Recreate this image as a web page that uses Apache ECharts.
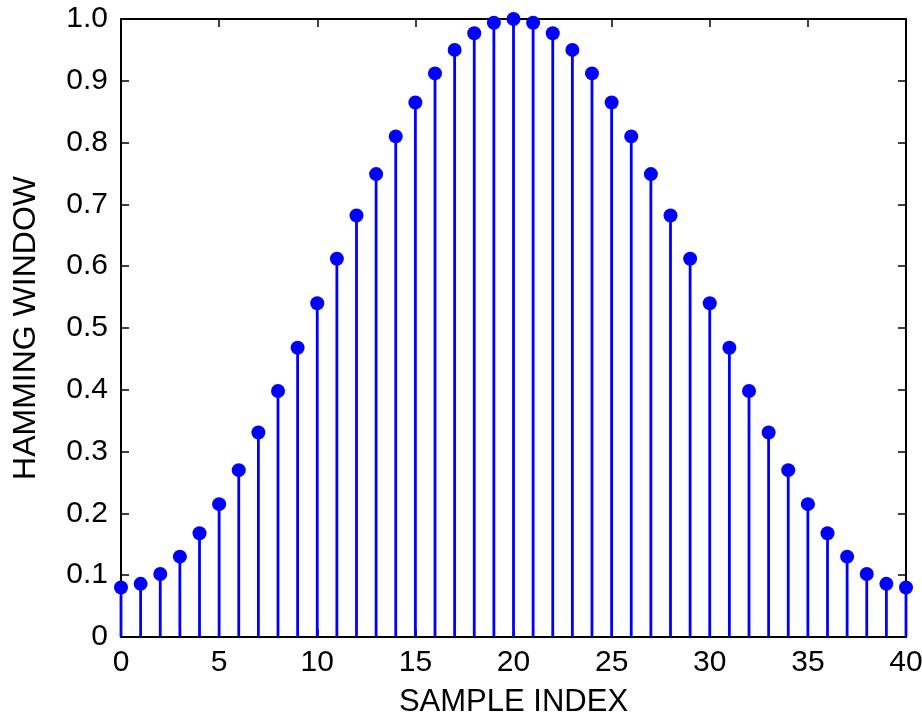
<!DOCTYPE html>
<html>
<head>
<meta charset="utf-8">
<script src="https://cdn.jsdelivr.net/npm/echarts@6/dist/echarts.min.js"></script>
<style>
html,body{margin:0;padding:0;background:#fff;}
#chart{width:922px;height:716px;}
</style>
</head>
<body>
<div id="chart"></div>
<script>
// Sample indices 0..40
const sampleIndex = [0,1,2,3,4,5,6,7,8,9,10,11,12,13,14,15,16,17,18,19,20,
  21,22,23,24,25,26,27,28,29,30,31,32,33,34,35,36,37,38,39,40];
// Hamming window values
const windowValues = [0.080,0.086,0.102,0.130,0.168,0.215,0.270,0.331,0.398,0.468,0.540,
  0.612,0.682,0.749,0.810,0.865,0.912,0.950,0.977,0.994,1.000,
  0.994,0.977,0.950,0.912,0.865,0.810,0.749,0.682,0.612,0.540,
  0.468,0.398,0.331,0.270,0.215,0.168,0.130,0.102,0.086,0.080];
const xLabel = 'SAMPLE INDEX';
const yLabel = 'HAMMING WINDOW';

const points = sampleIndex.map((x, i) => [x, windowValues[i]]);
const FONT = 'Liberation Sans, Arial, Helvetica, sans-serif';
const blue = '#0000ff';

const chart = echarts.init(document.getElementById('chart'), null, {renderer: 'canvas'});
const axisLineStyle = {color: '#000', width: 2};
const tickStyle = {show: true, inside: true, length: 8, lineStyle: {color: '#000', width: 1.5}};

chart.setOption({
  animation: false,
  backgroundColor: '#fff',
  grid: {left: 121, right: 16, top: 19, bottom: 79, containLabel: false, outerBoundsMode: 'none'},
  xAxis: [
    {
      type: 'value', position: 'bottom', min: 0, max: 40, interval: 5,
      axisLine: {show: true, lineStyle: axisLineStyle},
      axisTick: tickStyle,
      splitLine: {show: false},
      axisLabel: {color: '#000', fontFamily: FONT, fontSize: 30, margin: 11},
      name: xLabel, nameLocation: 'middle', nameGap: 50,
      nameTextStyle: {color: '#000', fontFamily: FONT, fontSize: 31}
    },
    {
      type: 'value', position: 'top', min: 0, max: 40, interval: 5,
      axisLine: {show: true, onZero: false, lineStyle: axisLineStyle},
      axisTick: tickStyle, axisLabel: {show: false}, splitLine: {show: false}
    }
  ],
  yAxis: [
    {
      type: 'value', position: 'left', min: 0, max: 1, interval: 0.1,
      axisLine: {show: true, lineStyle: axisLineStyle},
      axisTick: tickStyle,
      splitLine: {show: false},
      axisLabel: {color: '#000', fontFamily: FONT, fontSize: 30, margin: 13,
        formatter: v => (Math.abs(v) < 1e-9 ? '0' : v.toFixed(1))},
      name: yLabel, nameLocation: 'middle', nameGap: 79,
      nameTextStyle: {color: '#000', fontFamily: FONT, fontSize: 32}
    },
    {
      type: 'value', position: 'right', min: 0, max: 1, interval: 0.1,
      axisLine: {show: true, onZero: false, lineStyle: axisLineStyle},
      axisTick: tickStyle, axisLabel: {show: false}, splitLine: {show: false}
    }
  ],
  series: [
    {
      type: 'custom',
      xAxisIndex: 0, yAxisIndex: 0,
      data: points,
      renderItem: function (params, api) {
        const p0 = api.coord([api.value(0), 0]);
        const p1 = api.coord([api.value(0), api.value(1)]);
        return {
          type: 'line',
          shape: {x1: p0[0], y1: p0[1], x2: p1[0], y2: p1[1]},
          style: {stroke: blue, lineWidth: 2.8}
        };
      },
      z: 2
    },
    {
      type: 'scatter',
      xAxisIndex: 0, yAxisIndex: 0,
      data: points,
      symbol: 'circle', symbolSize: 14,
      itemStyle: {color: blue, opacity: 1},
      z: 3
    }
  ]
});
</script>
</body>
</html>
